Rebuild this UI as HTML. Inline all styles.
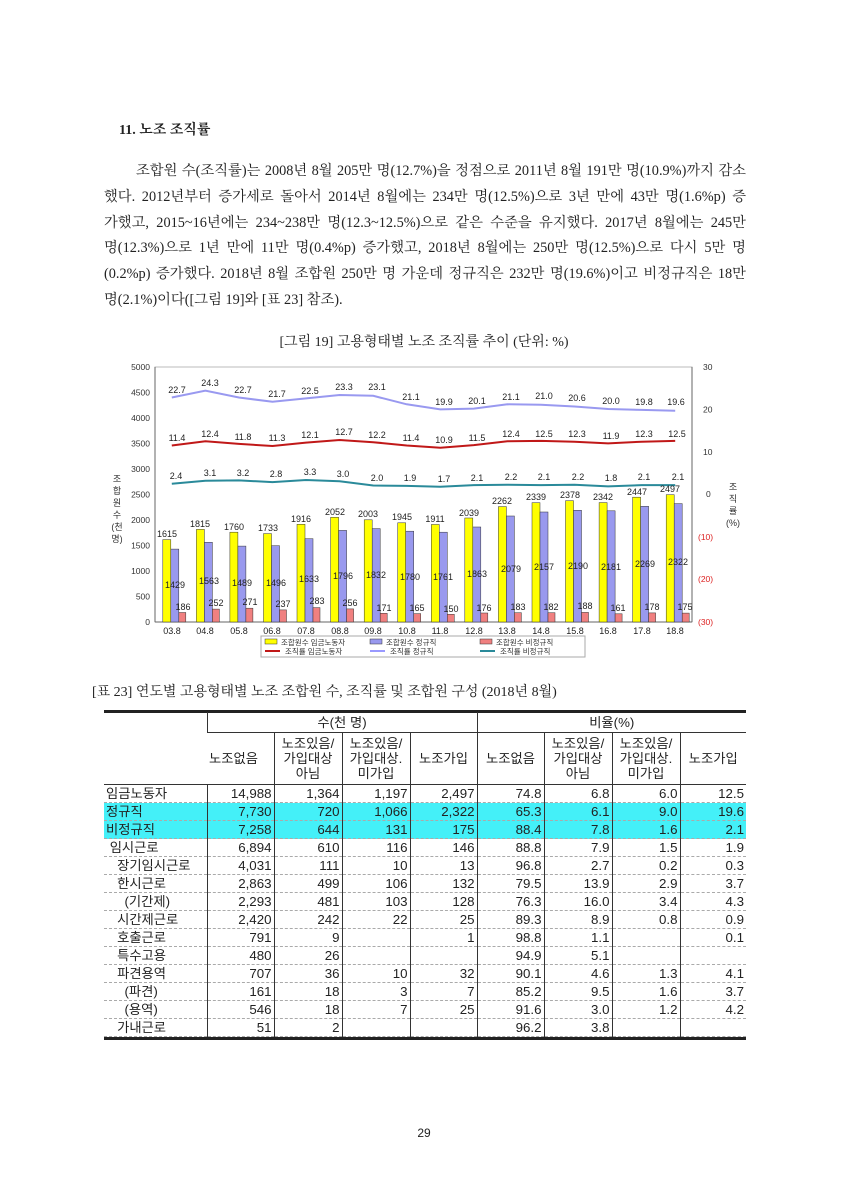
<!DOCTYPE html>
<html><head><meta charset="utf-8"><style>
body{margin:0;width:848px;height:1200px;background:#fff;position:relative;font-family:"Liberation Sans","Noto Sans CJK KR",sans-serif;color:#222;overflow:hidden}
.a{position:absolute}
.p{left:104px;width:642px;font-size:14.3px;line-height:25.8px;top:159px;font-family:"Liberation Serif","Noto Serif CJK SC","Noto Sans CJK KR",serif}
.p div{text-align:justify;text-align-last:justify;white-space:nowrap}
.p div.l{text-align-last:left}
table{border-collapse:collapse;position:absolute;left:104px;top:712px;width:642px;font-size:13.3px;font-family:"Liberation Sans","Noto Sans CJK KR",sans-serif;table-layout:fixed}
td{padding:0 2px;height:17px;line-height:17px;border-left:1px solid #333;border-bottom:1px dashed #aaa;text-align:right;white-space:nowrap}
td:first-child{border-left:none;text-align:left}
tr.c td{background:#44f0f8}
thead td{text-align:center;border-bottom:1px solid #333;line-height:15px}
</style></head><body>
<div class="a" style="left:119px;top:119px;font-size:14px;font-weight:bold;font-family:'Liberation Serif','Noto Serif CJK SC',serif">11. 노조 조직률</div>
<div class="a p">
<div style="padding-left:32px;width:610px">조합원 수(조직률)는 2008년 8월 205만 명(12.7%)을 정점으로 2011년 8월 191만 명(10.9%)까지 감소</div>
<div>했다. 2012년부터 증가세로 돌아서 2014년 8월에는 234만 명(12.5%)으로 3년 만에 43만 명(1.6%p) 증</div>
<div>가했고, 2015~16년에는 234~238만 명(12.3~12.5%)으로 같은 수준을 유지했다. 2017년 8월에는 245만</div>
<div>명(12.3%)으로 1년 만에 11만 명(0.4%p) 증가했고, 2018년 8월에는 250만 명(12.5%)으로 다시 5만 명</div>
<div>(0.2%p) 증가했다. 2018년 8월 조합원 250만 명 가운데 정규직은 232만 명(19.6%)이고 비정규직은 18만</div>
<div class="l">명(2.1%)이다([그림 19]와 [표 23] 참조).</div>
</div>
<div class="a" style="left:0;width:848px;top:331px;text-align:center;font-size:14px;font-family:'Liberation Serif','Noto Serif CJK SC',serif">[그림 19] 고용형태별 노조 조직률 추이 (단위: %)</div>

<svg class="a" style="left:0;top:350px" width="848" height="320" viewBox="0 350 848 320" font-family="Liberation Sans, Noto Sans CJK KR, sans-serif">
<rect x="155" y="367" width="537" height="255" fill="none" stroke="#bbb"/>
<line x1="155" y1="367" x2="155" y2="622" stroke="#666"/><line x1="692" y1="367" x2="692" y2="622" stroke="#666"/>
<line x1="155" y1="622" x2="692" y2="622" stroke="#666"/>
<g font-size="8.5" text-anchor="end" fill="#333">
<text x="150" y="370">5000</text><text x="150" y="395.5">4500</text><text x="150" y="421">4000</text><text x="150" y="446.5">3500</text><text x="150" y="472">3000</text><text x="150" y="497.5">2500</text><text x="150" y="523">2000</text><text x="150" y="548.5">1500</text><text x="150" y="574">1000</text><text x="150" y="599.5">500</text><text x="150" y="625">0</text>
</g>
<g font-size="8.5" fill="#333"><text x="703" y="370">30</text><text x="703" y="412.5">20</text><text x="703" y="455">10</text><text x="706" y="497">0</text></g>
<g font-size="8.5" fill="#d22"><text x="698" y="540">(10)</text><text x="698" y="582">(20)</text><text x="698" y="625">(30)</text></g>
<g font-size="9" fill="#333" text-anchor="middle"><text x="117" y="482">조</text><text x="117" y="494">합</text><text x="117" y="506">원</text><text x="117" y="518">수</text><text x="117" y="530">(천</text><text x="117" y="542">명)</text>
<text x="733" y="490">조</text><text x="733" y="502">직</text><text x="733" y="514">률</text><text x="733" y="526">(%)</text></g>
<g stroke="#333" stroke-width="0.5">
<g fill="#ffff00">
<rect x="162.8" y="539.6" width="8" height="82.4"/><rect x="196.4" y="529.4" width="8" height="92.6"/><rect x="229.9" y="532.2" width="8" height="89.8"/><rect x="263.5" y="533.6" width="8" height="88.4"/><rect x="297" y="524.3" width="8" height="97.7"/><rect x="330.6" y="517.3" width="8" height="104.7"/><rect x="364.2" y="519.8" width="8" height="102.2"/><rect x="397.7" y="522.8" width="8" height="99.2"/><rect x="431.3" y="524.5" width="8" height="97.5"/><rect x="464.8" y="518" width="8" height="104"/><rect x="498.4" y="506.6" width="8" height="115.4"/><rect x="532" y="502.7" width="8" height="119.3"/><rect x="565.5" y="500.7" width="8" height="121.3"/><rect x="599.1" y="502.6" width="8" height="119.4"/><rect x="632.6" y="497.2" width="8" height="124.8"/><rect x="666.2" y="494.7" width="8" height="127.3"/>
</g>
<g fill="#9999ee">
<rect x="170.8" y="549.1" width="8" height="72.9"/><rect x="204.4" y="542.3" width="8" height="79.7"/><rect x="237.9" y="546.1" width="8" height="75.9"/><rect x="271.5" y="545.7" width="8" height="76.3"/><rect x="305" y="538.7" width="8" height="83.3"/><rect x="338.6" y="530.4" width="8" height="91.6"/><rect x="372.2" y="528.6" width="8" height="93.4"/><rect x="405.7" y="531.2" width="8" height="90.8"/><rect x="439.3" y="532.2" width="8" height="89.8"/><rect x="472.8" y="527" width="8" height="95"/><rect x="506.4" y="516" width="8" height="106"/><rect x="540" y="512" width="8" height="110"/><rect x="573.5" y="510.3" width="8" height="111.7"/><rect x="607.1" y="510.8" width="8" height="111.2"/><rect x="640.6" y="506.3" width="8" height="115.7"/><rect x="674.2" y="503.6" width="8" height="118.4"/>
</g>
<g fill="#f08080">
<rect x="178.8" y="612.5" width="7" height="9.5"/><rect x="212.4" y="609.1" width="7" height="12.9"/><rect x="245.9" y="608.2" width="7" height="13.8"/><rect x="279.5" y="609.9" width="7" height="12.1"/><rect x="313" y="607.6" width="7" height="14.4"/><rect x="346.6" y="608.9" width="7" height="13.1"/><rect x="380.2" y="613.3" width="7" height="8.7"/><rect x="413.7" y="613.6" width="7" height="8.4"/><rect x="447.3" y="614.3" width="7" height="7.7"/><rect x="480.8" y="613" width="7" height="9"/><rect x="514.4" y="612.7" width="7" height="9.3"/><rect x="548" y="612.7" width="7" height="9.3"/><rect x="581.5" y="612.4" width="7" height="9.6"/><rect x="615.1" y="613.8" width="7" height="8.2"/><rect x="648.6" y="612.9" width="7" height="9.1"/><rect x="682.2" y="613.1" width="7" height="8.9"/>
</g></g>
<polyline fill="none" stroke="#9999f0" stroke-width="2" points="171.8,397.5 205.4,390.7 238.9,397.5 272.5,401.8 306,398.4 339.6,395 373.2,395.8 406.7,404.3 440.3,409.4 473.8,408.6 507.4,404.3 541,404.8 574.5,406.5 608.1,409 641.6,409.9 675.2,410.7"/>
<polyline fill="none" stroke="#c01818" stroke-width="2" points="171.8,445.5 205.4,441.3 238.9,443.9 272.5,446 306,442.6 339.6,440 373.2,442.2 406.7,445.5 440.3,447.7 473.8,445.1 507.4,441.3 541,440.9 574.5,441.7 608.1,443.4 641.6,441.7 675.2,440.9"/>
<polyline fill="none" stroke="#2a8a9a" stroke-width="2" points="171.8,483.8 205.4,480.8 238.9,480.4 272.5,482.1 306,480 339.6,481.3 373.2,485.5 406.7,485.9 440.3,486.8 473.8,485.1 507.4,484.7 541,485.1 574.5,484.7 608.1,486.4 641.6,485.1 675.2,485.1"/>
<g font-size="9" fill="#222" text-anchor="middle">
<text x="177" y="393">22.7</text><text x="210" y="386">24.3</text><text x="243" y="393">22.7</text><text x="277" y="397">21.7</text><text x="310" y="394">22.5</text><text x="344" y="390">23.3</text><text x="377" y="390">23.1</text><text x="411" y="400">21.1</text><text x="444" y="405">19.9</text><text x="477" y="404">20.1</text><text x="511" y="400">21.1</text><text x="544" y="399">21.0</text><text x="577" y="401">20.6</text><text x="611" y="404">20.0</text><text x="644" y="405">19.8</text><text x="676" y="405">19.6</text>
<text x="177" y="441">11.4</text><text x="210" y="437">12.4</text><text x="243" y="440">11.8</text><text x="277" y="441">11.3</text><text x="310" y="438">12.1</text><text x="344" y="435">12.7</text><text x="377" y="438">12.2</text><text x="411" y="441">11.4</text><text x="444" y="443">10.9</text><text x="477" y="441">11.5</text><text x="511" y="437">12.4</text><text x="544" y="437">12.5</text><text x="577" y="437">12.3</text><text x="611" y="439">11.9</text><text x="644" y="437">12.3</text><text x="677" y="437">12.5</text>
<text x="176" y="479">2.4</text><text x="210" y="476">3.1</text><text x="243" y="476">3.2</text><text x="276" y="477">2.8</text><text x="310" y="475">3.3</text><text x="343" y="477">3.0</text><text x="377" y="481">2.0</text><text x="410" y="481">1.9</text><text x="444" y="482">1.7</text><text x="477" y="481">2.1</text><text x="511" y="480">2.2</text><text x="544" y="480">2.1</text><text x="578" y="480">2.2</text><text x="611" y="481">1.8</text><text x="644" y="480">2.1</text><text x="678" y="480">2.1</text>
<text x="167" y="537">1615</text><text x="200" y="527">1815</text><text x="234" y="530">1760</text><text x="268" y="531">1733</text><text x="301" y="522">1916</text><text x="335" y="515">2052</text><text x="368" y="517">2003</text><text x="402" y="520">1945</text><text x="435" y="522">1911</text><text x="469" y="516">2039</text><text x="502" y="504">2262</text><text x="536" y="500">2339</text><text x="570" y="498">2378</text><text x="603" y="500">2342</text><text x="637" y="495">2447</text><text x="670" y="492">2497</text>
<text x="175" y="588">1429</text><text x="209" y="584">1563</text><text x="242" y="586">1489</text><text x="276" y="586">1496</text><text x="309" y="582">1633</text><text x="343" y="579">1796</text><text x="376" y="578">1832</text><text x="410" y="580">1780</text><text x="443" y="580">1761</text><text x="477" y="577">1863</text><text x="511" y="572">2079</text><text x="544" y="570">2157</text><text x="578" y="569">2190</text><text x="611" y="570">2181</text><text x="645" y="567">2269</text><text x="678" y="565">2322</text>
<text x="183" y="610">186</text><text x="216" y="606">252</text><text x="250" y="605">271</text><text x="283" y="607">237</text><text x="317" y="604">283</text><text x="350" y="606">256</text><text x="384" y="611">171</text><text x="417" y="611">165</text><text x="451" y="612">150</text><text x="484" y="611">176</text><text x="518" y="610">183</text><text x="551" y="610">182</text><text x="585" y="609">188</text><text x="618" y="611">161</text><text x="652" y="610">178</text><text x="685" y="610">175</text>
<text x="172" y="634">03.8</text><text x="205" y="634">04.8</text><text x="239" y="634">05.8</text><text x="272" y="634">06.8</text><text x="306" y="634">07.8</text><text x="340" y="634">08.8</text><text x="373" y="634">09.8</text><text x="407" y="634">10.8</text><text x="440" y="634">11.8</text><text x="474" y="634">12.8</text><text x="507" y="634">13.8</text><text x="541" y="634">14.8</text><text x="575" y="634">15.8</text><text x="608" y="634">16.8</text><text x="642" y="634">17.8</text><text x="675" y="634">18.8</text>
</g>
<rect x="261" y="636" width="324" height="21" fill="#fff" stroke="#aaa"/>
<g font-size="7.5" fill="#333">
<rect x="265" y="639" width="12" height="5" fill="#ff0" stroke="#333" stroke-width=".5"/><text x="281" y="645">조합원수 임금노동자</text>
<rect x="370" y="639" width="12" height="5" fill="#99e" stroke="#333" stroke-width=".5"/><text x="386" y="645">조합원수 정규직</text>
<rect x="480" y="639" width="12" height="5" fill="#f08080" stroke="#333" stroke-width=".5"/><text x="496" y="645">조합원수 비정규직</text>
<line x1="265" y1="651" x2="280" y2="651" stroke="#c01818" stroke-width="2"/><text x="285" y="654">조직률 임금노동자</text>
<line x1="370" y1="651" x2="385" y2="651" stroke="#99f" stroke-width="2"/><text x="390" y="654">조직률 정규직</text>
<line x1="480" y1="651" x2="495" y2="651" stroke="#2a8a9a" stroke-width="2"/><text x="500" y="654">조직률 비정규직</text>
</g>
</svg>

<div class="a" style="left:92px;top:681px;font-size:14px;font-family:'Liberation Serif','Noto Serif CJK SC',serif">[표 23] 연도별 고용형태별 노조 조합원 수, 조직률 및 조합원 구성 (2018년 8월)</div>
<div class="a" style="left:104px;top:710px;width:642px;height:3px;background:#222"></div>
<table>
<colgroup><col style="width:103px"><col style="width:67px"><col style="width:68px"><col style="width:68px"><col style="width:67px"><col style="width:67px"><col style="width:68px"><col style="width:68px"><col style="width:66px"></colgroup>
<thead>
<tr><td rowspan="2" style="border-bottom:1px solid #333;height:72px"></td><td colspan="4" style="height:20px">수(천 명)</td><td colspan="4">비율(%)</td></tr>
<tr><td style="height:51px">노조없음</td><td>노조있음/<br>가입대상<br>아님</td><td>노조있음/<br>가입대상.<br>미가입</td><td>노조가입</td><td>노조없음</td><td>노조있음/<br>가입대상<br>아님</td><td>노조있음/<br>가입대상.<br>미가입</td><td>노조가입</td></tr>
</thead>
<tbody>
<tr><td>임금노동자</td><td>14,988</td><td>1,364</td><td>1,197</td><td>2,497</td><td>74.8</td><td>6.8</td><td>6.0</td><td>12.5</td></tr>
<tr class="c"><td>정규직</td><td>7,730</td><td>720</td><td>1,066</td><td>2,322</td><td>65.3</td><td>6.1</td><td>9.0</td><td>19.6</td></tr>
<tr class="c"><td>비정규직</td><td>7,258</td><td>644</td><td>131</td><td>175</td><td>88.4</td><td>7.8</td><td>1.6</td><td>2.1</td></tr>
<tr><td>&nbsp;임시근로</td><td>6,894</td><td>610</td><td>116</td><td>146</td><td>88.8</td><td>7.9</td><td>1.5</td><td>1.9</td></tr>
<tr><td>&nbsp;&nbsp;&nbsp;장기임시근로</td><td>4,031</td><td>111</td><td>10</td><td>13</td><td>96.8</td><td>2.7</td><td>0.2</td><td>0.3</td></tr>
<tr><td>&nbsp;&nbsp;&nbsp;한시근로</td><td>2,863</td><td>499</td><td>106</td><td>132</td><td>79.5</td><td>13.9</td><td>2.9</td><td>3.7</td></tr>
<tr><td>&nbsp;&nbsp;&nbsp;&nbsp;&nbsp;(기간제)</td><td>2,293</td><td>481</td><td>103</td><td>128</td><td>76.3</td><td>16.0</td><td>3.4</td><td>4.3</td></tr>
<tr><td>&nbsp;&nbsp;&nbsp;시간제근로</td><td>2,420</td><td>242</td><td>22</td><td>25</td><td>89.3</td><td>8.9</td><td>0.8</td><td>0.9</td></tr>
<tr><td>&nbsp;&nbsp;&nbsp;호출근로</td><td>791</td><td>9</td><td></td><td>1</td><td>98.8</td><td>1.1</td><td></td><td>0.1</td></tr>
<tr><td>&nbsp;&nbsp;&nbsp;특수고용</td><td>480</td><td>26</td><td></td><td></td><td>94.9</td><td>5.1</td><td></td><td></td></tr>
<tr><td>&nbsp;&nbsp;&nbsp;파견용역</td><td>707</td><td>36</td><td>10</td><td>32</td><td>90.1</td><td>4.6</td><td>1.3</td><td>4.1</td></tr>
<tr><td>&nbsp;&nbsp;&nbsp;&nbsp;&nbsp;(파견)</td><td>161</td><td>18</td><td>3</td><td>7</td><td>85.2</td><td>9.5</td><td>1.6</td><td>3.7</td></tr>
<tr><td>&nbsp;&nbsp;&nbsp;&nbsp;&nbsp;(용역)</td><td>546</td><td>18</td><td>7</td><td>25</td><td>91.6</td><td>3.0</td><td>1.2</td><td>4.2</td></tr>
<tr><td>&nbsp;&nbsp;&nbsp;가내근로</td><td>51</td><td>2</td><td></td><td></td><td>96.2</td><td>3.8</td><td></td><td></td></tr>
</tbody></table>
<div class="a" style="left:104px;top:1037px;width:642px;height:3px;background:#222"></div>
<div class="a" style="left:0;width:848px;top:1126px;text-align:center;font-size:12px">29</div>
</body></html>
